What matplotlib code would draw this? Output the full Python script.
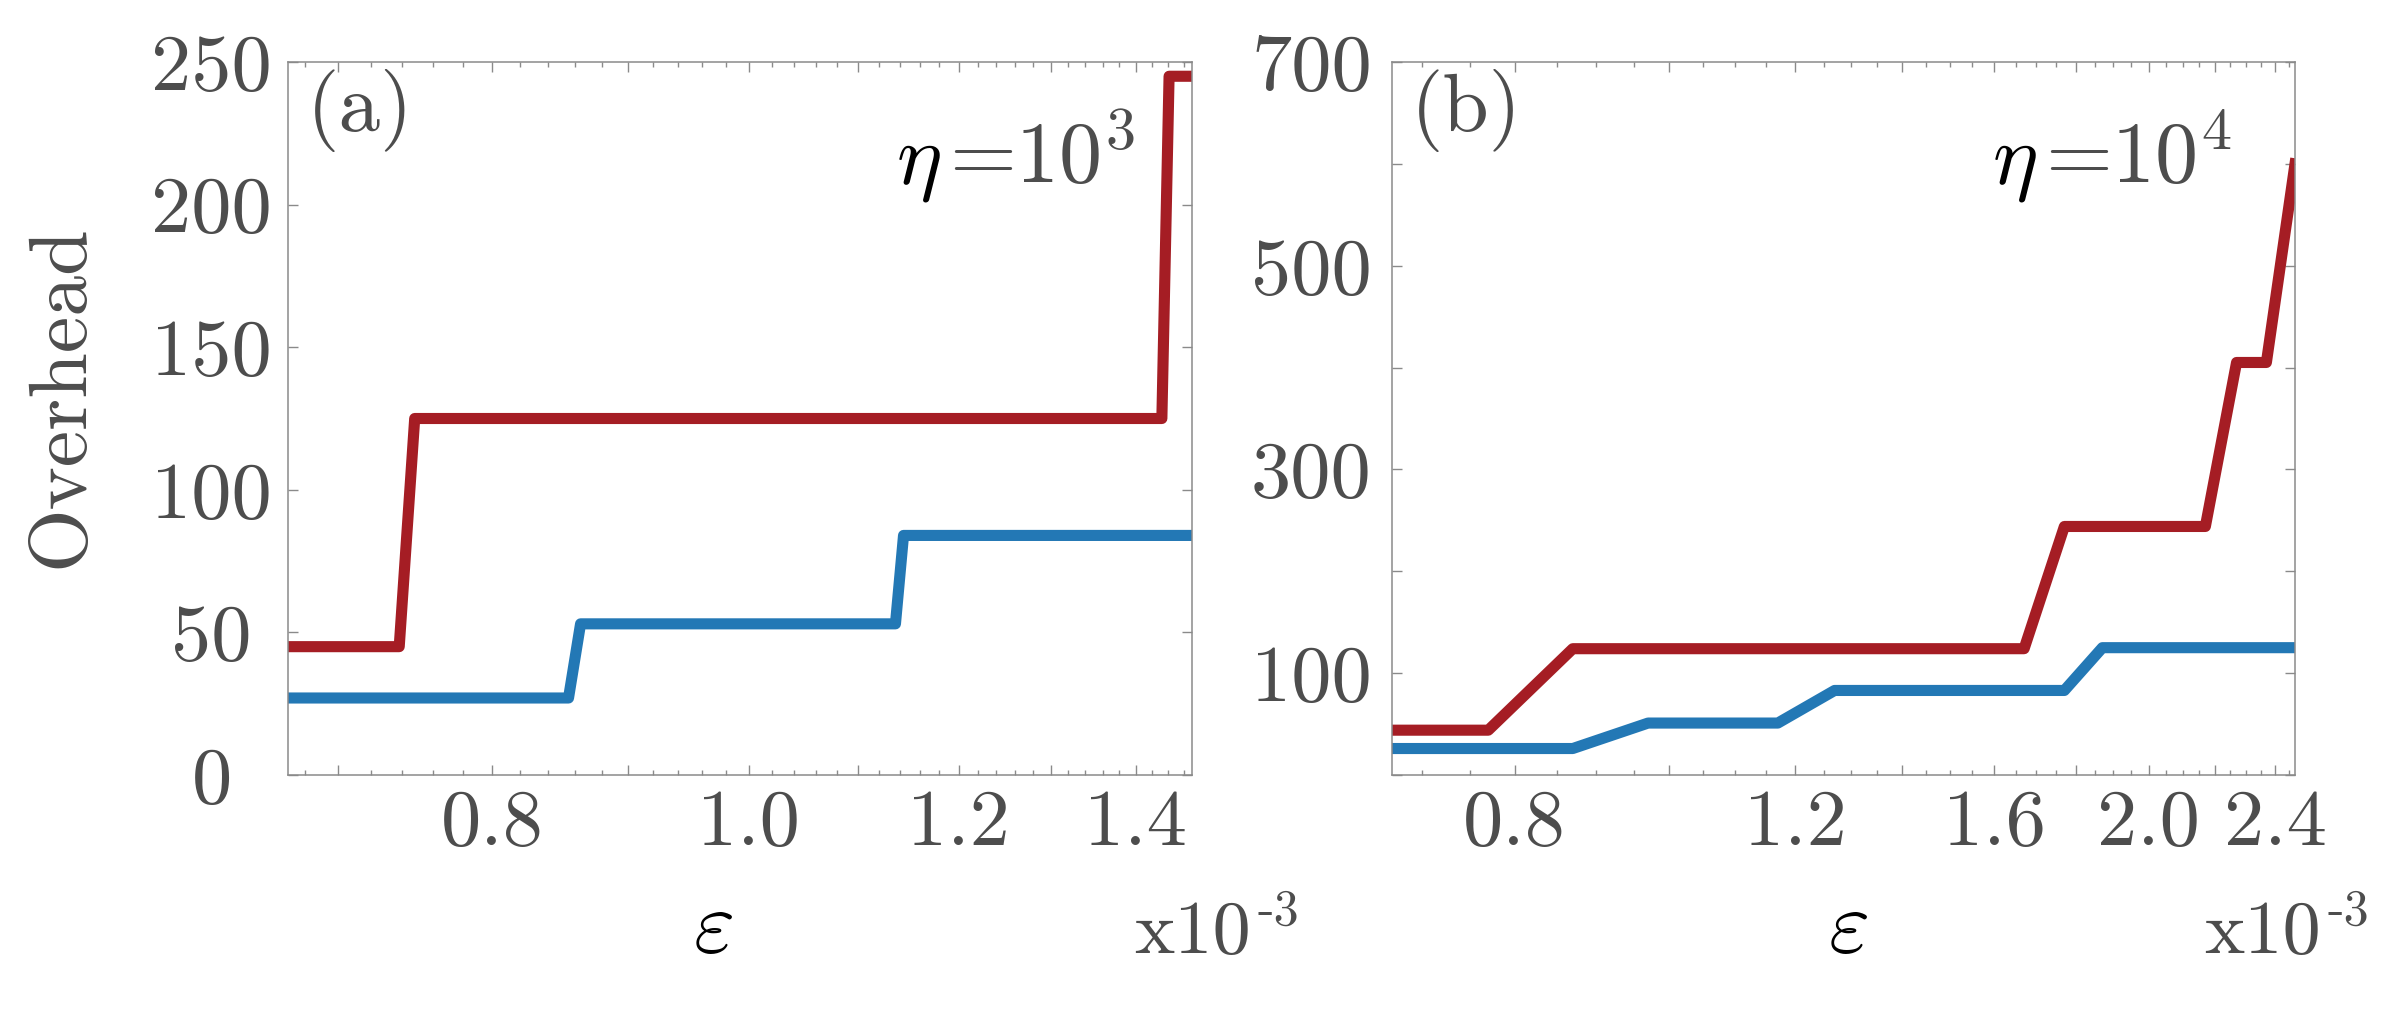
import numpy as np
import matplotlib
matplotlib.use("Agg")
import matplotlib.pyplot as plt

plt.rcParams['font.family'] = 'cmr10'
plt.rcParams['mathtext.fontset'] = 'cm'
plt.rcParams['axes.unicode_minus'] = False
plt.rcParams['axes.formatter.use_mathtext'] = True

# ---- data (epsilon in units of 1e-3) ----
# panel (a), eta = 1e3 : corner points of the two step curves
eps_a_red = [0.67, 0.738, 0.748, 1.432, 1.441, 1.47]
ovh_a_red = [45, 45, 125, 125, 245, 245]
eps_a_blue = [0.67, 0.855, 0.864, 1.136, 1.144, 1.47]
ovh_a_blue = [27, 27, 53, 53, 84, 84]

# panel (b), eta = 1e4 : sampled every 0.1
eps_b = [0.67, 0.77, 0.87, 0.97, 1.07, 1.17, 1.27, 1.37, 1.47, 1.57,
         1.67, 1.77, 1.87, 1.97, 2.07, 2.17, 2.27, 2.37, 2.47]
ovh_b_red = [44, 44, 124, 124, 124, 124, 124, 124, 124, 124,
             124, 244, 244, 244, 244, 244, 405, 405, 600]
ovh_b_blue = [26, 26, 26, 51, 51, 51, 83, 83, 83, 83,
              83, 83, 125, 125, 125, 125, 125, 125, 125]

xt_a = [0.7, 0.8, 0.9, 1.0, 1.1, 1.2, 1.3, 1.4]
xl_a = ['', '0.8', '', '1.0', '', '1.2', '', '1.4']
xt_b = [0.8, 1.0, 1.2, 1.4, 1.6, 1.8, 2.0, 2.2, 2.4]
xl_b = ['0.8', '', '1.2', '', '1.6', '', '2.0', '', '2.4']
yt_a = [0, 50, 100, 150, 200, 250]
yl_a = ['0', '50', '100', '150', '200', '250']
yt_b = [0, 100, 200, 300, 400, 500, 600, 700]
yl_b = ['', '100', '', '300', '', '500', '', '700']

RED = '#a51d24'
BLUE = '#2378b5'
GREY_TXT = '#4d4d4d'
GREY_AX = '#8a8a8a'
W, H = 2381, 1025
FS = 58

fig = plt.figure(figsize=(W / 100, H / 100), dpi=100)
ax1 = fig.add_axes([288 / W, 1 - 775 / H, 904 / W, 713 / H])
ax2 = fig.add_axes([1392 / W, 1 - 775 / H, 903 / W, 713 / H])


def style(ax, xlim, ylim, xt, xl, xminor, yt, yl, ypad):
    ax.set_xscale('log')
    ax.set_xlim(*xlim)
    ax.set_ylim(*ylim)
    ax.set_xticks(xt)
    ax.set_xticklabels(xl)
    ax.set_xticks(xminor, minor=True)
    ax.set_xticklabels([], minor=True)
    ax.set_yticks(yt)
    ax.set_yticklabels(yl)
    for s in ax.spines.values():
        s.set_color(GREY_AX)
        s.set_linewidth(1.1)
    ax.tick_params(which='both', direction='in', top=True, right=True,
                   color=GREY_AX, width=1.0, labelcolor=GREY_TXT, labelsize=FS)
    ax.tick_params(which='major', length=7)
    ax.tick_params(which='minor', length=3.5)
    ax.tick_params(axis='x', pad=10)
    ax.tick_params(axis='y', pad=ypad)
    for lab in ax.get_yticklabels():
        lab.set_horizontalalignment('center')


minor_a = np.arange(0.68, 1.47, 0.02)
minor_b = np.arange(0.70, 2.47, 0.05)
style(ax1, (0.67, 1.47), (0, 250), xt_a, xl_a, minor_a, yt_a, yl_a, 55)
style(ax2, (0.67, 2.47), (0, 700), xt_b, xl_b, minor_b, yt_b, yl_b, 58)

lw = 8
ax1.plot(eps_a_red, ovh_a_red, color=RED, lw=lw, solid_joinstyle='round')
ax1.plot(eps_a_blue, ovh_a_blue, color=BLUE, lw=lw, solid_joinstyle='round')
ax2.plot(eps_b, ovh_b_red, color=RED, lw=lw, solid_joinstyle='round')
ax2.plot(eps_b, ovh_b_blue, color=BLUE, lw=lw, solid_joinstyle='round')

# panel labels
ax1.text(0.021, 0.903, '(a)', transform=ax1.transAxes, fontsize=60,
         color=GREY_TXT, va='baseline')
ax2.text(0.021, 0.903, '(b)', transform=ax2.transAxes, fontsize=60,
         color=GREY_TXT, va='baseline')

# eta annotations
for ax, x0, txt in [(ax1, 0.673, '=10$^{3}$'), (ax2, 0.664, '=10$^{4}$')]:
    ax.text(x0, 0.830, r'$\eta$', transform=ax.transAxes, fontsize=62,
            color='black', va='baseline')
    ax.text(x0 + 53 / 904, 0.830, txt, transform=ax.transAxes, fontsize=62,
            color=GREY_TXT, va='baseline')

# axis labels
fig.text(62 / W, 1 - 396 / H, 'Overhead', rotation=90, fontsize=59,
         color=GREY_TXT, ha='center', va='center')
for xc in (713, 1848):
    fig.text(xc / W, 1 - 952 / H, r'$\varepsilon$', fontsize=64,
             color='black', ha='center', va='baseline')
for x0 in (1134, 2204):
    fig.text(x0 / W, 1 - 953 / H, 'x10', fontsize=55, color=GREY_TXT,
             ha='left', va='baseline')
    fig.text((x0 + 124) / W, 1 - 925 / H, '-3', fontsize=36, color=GREY_TXT,
             ha='left', va='baseline')

fig.savefig('out.png', dpi=100, facecolor='white')
